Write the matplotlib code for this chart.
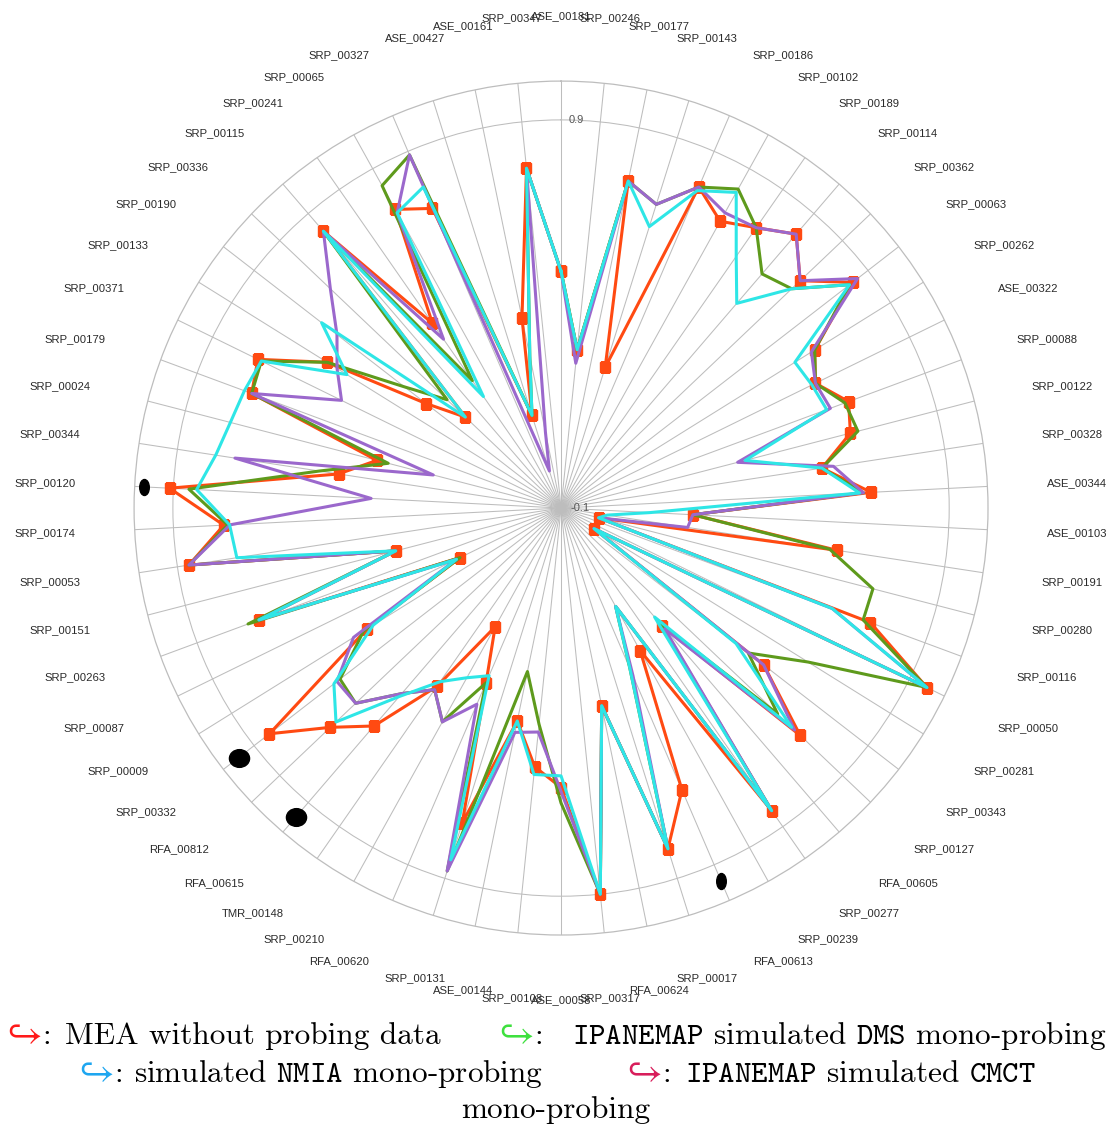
import numpy as np
import matplotlib
matplotlib.use("Agg")
import matplotlib.pyplot as plt
from matplotlib.path import Path
from matplotlib.transforms import Affine2D

plt.rcParams['mathtext.fontset'] = 'cm'

# Spoke labels, clockwise from the top
labels = [
    "ASE_00181", "SRP_00246", "SRP_00177", "SRP_00143", "SRP_00186", "SRP_00102",
    "SRP_00189", "SRP_00114", "SRP_00362", "SRP_00063", "SRP_00262", "ASE_00322",
    "SRP_00088", "SRP_00122", "SRP_00328", "ASE_00344", "ASE_00103", "SRP_00191",
    "SRP_00280", "SRP_00116", "SRP_00050", "SRP_00281", "SRP_00343", "SRP_00127",
    "RFA_00605", "SRP_00277", "SRP_00239", "RFA_00613", "SRP_00017", "RFA_00624",
    "SRP_00317", "ASE_00058", "SRP_00108", "ASE_00144", "SRP_00131", "RFA_00620",
    "SRP_00210", "TMR_00148", "RFA_00615", "RFA_00812", "SRP_00332", "SRP_00009",
    "SRP_00087", "SRP_00263", "SRP_00151", "SRP_00053", "SRP_00174", "SRP_00120",
    "SRP_00344", "SRP_00024", "SRP_00179", "SRP_00371", "SRP_00133", "SRP_00190",
    "SRP_00336", "SRP_00115", "SRP_00241", "SRP_00065", "SRP_00327", "ASE_00427",
    "ASE_00161", "SRP_00347",
]

# MEA without probing data
mea = [0.51, 0.31, 0.76, 0.28, 0.80, 0.745, 0.78, 0.83, 0.75, 0.85,
       0.67, 0.63, 0.69, 0.67, 0.58, 0.70, 0.24, 0.62, 0.00, 0.75,
       0.95, 0.00, 0.56, 0.75, 0.30, 0.85, 0.32, 0.69, 0.82, 0.42,
       0.90, 0.62, 0.57, 0.46, 0.75, 0.39, 0.25, 0.46, 0.64, 0.72,
       0.85, 0.49, 0.19, 0.73, 0.34, 0.87, 0.77, 0.91, 0.48, 0.39,
       0.75, 0.77, 0.61, 0.34, 0.24, 0.84, 0.48, 0.78, 0.74, 0.15,
       0.40, 0.78]

# IPANEMAP simulated DMS mono-probing
dms = [0.51, 0.31, 0.76, 0.72, 0.80, 0.84, 0.78, 0.695, 0.72, 0.84,
       0.67, 0.63, 0.68, 0.69, 0.58, 0.68, 0.24, 0.60, 0.73, 0.73,
       0.95, 0.65, 0.51, 0.67, 0.29, 0.85, 0.19, 0.35, 0.82, 0.42,
       0.90, 0.66, 0.46, 0.33, 0.88, 0.39, 0.53, 0.47, 0.53, 0.63,
       0.62, 0.50, 0.19, 0.76, 0.34, 0.87, 0.76, 0.86, 0.53, 0.36,
       0.75, 0.76, 0.61, 0.41, 0.305, 0.84, 0.30, 0.85, 0.89, 0.15,
       0.30, 0.78]

# simulated NMIA mono-probing
nmia = [0.51, 0.31, 0.76, 0.66, 0.79, 0.83, 0.69, 0.595, 0.72, 0.84,
        0.61, 0.62, 0.63, 0.39, 0.58, 0.67, 0.13, 0.02, 0.00, 0.645,
        0.95, 0.00, 0.47, 0.72, 0.27, 0.85, 0.19, 0.35, 0.82, 0.42,
        0.90, 0.59, 0.59, 0.46, 0.85, 0.37, 0.40, 0.445, 0.54, 0.70,
        0.64, 0.47, 0.20, 0.73, 0.34, 0.745, 0.755, 0.84, 0.80, 0.78,
        0.77, 0.76, 0.55, 0.68, 0.24, 0.84, 0.25, 0.77, 0.80, 0.15,
        0.30, 0.78]

# IPANEMAP simulated CMCT mono-probing
cmct = [0.51, 0.275, 0.76, 0.72, 0.80, 0.77, 0.78, 0.83, 0.75, 0.866,
        0.66, 0.63, 0.64, 0.37, 0.61, 0.68, 0.24, 0.23, 0.00, 0.645,
        0.95, 0.00, 0.56, 0.73, 0.31, 0.85, 0.19, 0.37, 0.82, 0.42,
        0.90, 0.63, 0.48, 0.49, 0.88, 0.45, 0.53, 0.47, 0.53, 0.63,
        0.63, 0.53, 0.20, 0.73, 0.34, 0.87, 0.754, 0.39, 0.75, 0.24,
        0.75, 0.53, 0.58, 0.63, 0.72, 0.84, 0.43, 0.77, 0.89, 0.00,
        0.10, 0.78]

# Highlighted spokes (black dots near the rim)
marked_spokes = [47, 40, 38, 27]
marked_values = [0.975, 0.95, 0.95, 0.945]

n = len(labels)
theta = np.arange(n) * 2 * np.pi / n

fig = plt.figure(figsize=(11.09, 11.26), dpi=100)
ax = fig.add_axes([0.1209, 0.1696, 0.770, 0.7584], projection='polar')
ax.set_theta_zero_location('N')
ax.set_theta_direction(-1)
ax.set_ylim(-0.1, 1.0)
ax.set_xticks(theta)
ax.set_xticklabels([])
ax.set_yticks([0.9])
ax.set_yticklabels([])
ax.grid(True, color='#bdbdbd', lw=0.75)
ax.spines['polar'].set_color('#bdbdbd')
ax.spines['polar'].set_linewidth(0.9)
ax.tick_params(length=0)

def closed(vals):
    v = np.asarray(vals, dtype=float)
    return np.append(theta, theta[0]), np.append(v, v[0])

t, r = closed(mea)
ax.plot(t, r, color='#ff4a12', lw=2.2, marker='s', markersize=6.8, zorder=3)
t, r = closed(dms)
ax.plot(t, r, color='#5e9a1c', lw=2.2, zorder=4)
t, r = closed(cmct)
ax.plot(t, r, color='#9b68cc', lw=2.2, zorder=5)
t, r = closed(nmia)
ax.plot(t, r, color='#2ee6e6', lw=2.2, zorder=6)

# black dots
tall = Path.unit_circle().transformed(Affine2D().scale(0.6, 1.0))
wide = Path.unit_circle().transformed(Affine2D().scale(1.0, 0.88))
for s, v in zip(marked_spokes, marked_values):
    mk, ms = (tall, 11.5) if s in (47, 27) else (wide, 14.5)
    ax.plot([theta[s]], [v], linestyle='none', marker=mk, markersize=ms,
            color='black', zorder=7, clip_on=False)

# scale labels
ax.annotate('0.9', xy=(0, 0.9), xytext=(11, 0), textcoords='offset points',
            ha='center', va='center', fontsize=8, color='#555555',
            family='Liberation Sans', zorder=8)
ax.annotate('-0.1', xy=(0, -0.1), xytext=(14, 0), textcoords='offset points',
            ha='center', va='center', fontsize=8, color='#555555',
            family='Liberation Sans', zorder=8)

# spoke labels: centred near the vertical, pushed outward away from the horizontal
for i, lab in enumerate(labels):
    d = np.degrees(theta[i])
    if d < 20 or d > 340 or 160 < d < 200:
        ha = 'center'
    elif d < 180:
        ha = 'left'
    else:
        ha = 'right'
    elev = 90 - np.degrees(np.arccos(abs(np.cos(theta[i]))))
    dy = 0.0
    if elev > 23:
        dy = 4.3 if np.cos(theta[i]) > 0 else -4.3
    ax.annotate(lab, xy=(theta[i], 1.1526), xytext=(0, dy),
                textcoords='offset points', ha=ha, va='center', fontsize=8.1,
                color='#2a2a2a', family='Liberation Sans', annotation_clip=False)

# caption-style legend
W, H = 1109.0, 1126.0
fs = 22.5
def px(x, y):
    return x / W, 1 - y / H

arrow = r'$\hookrightarrow$'
# (arrow left, text left, baseline, colour, text)
entries = [
    (8, 65, 1044, '#ff1a1a', 'MEA without probing data'),
    (500, 572, 1044, '#3ee03e', r'$\mathtt{IPANEMAP}$ simulated $\mathtt{DMS}$ mono-probing'),
    (80, 134, 1082, '#1ea6f0', r'simulated $\mathtt{NMIA}$ mono-probing'),
    (628, 685, 1082, '#d81e5b', r'$\mathtt{IPANEMAP}$ simulated $\mathtt{CMCT}$'),
]
for xa, xt, y, c, txt in entries:
    fig.text(*px(xa - 8, y), arrow, color=c, fontsize=28, ha='left', va='baseline')
    fig.text(*px(xa + 34, y), ':', color='black', fontsize=fs, ha='left',
             va='baseline', family='cmr10')
    fig.text(*px(xt, y), txt, color='black', fontsize=fs, ha='left',
             va='baseline', family='cmr10')
fig.text(*px(556, 1118), 'mono-probing', color='black', fontsize=fs,
         ha='center', va='baseline', family='cmr10')

fig.savefig('out.png', dpi=100)
